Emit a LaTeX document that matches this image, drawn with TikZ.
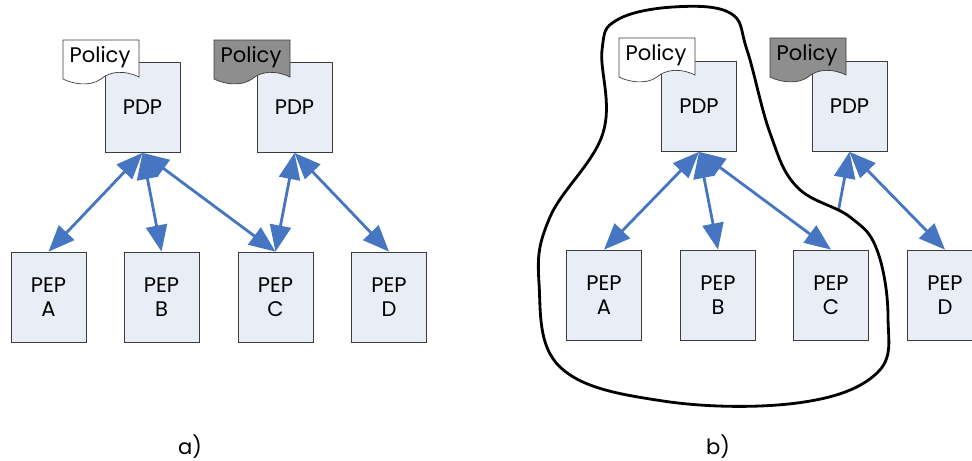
\documentclass[tikz,border=0pt]{standalone}
\usepackage{fontspec}
\setmainfont{Poppins}
\usetikzlibrary{arrows.meta,calc}

\definecolor{boxfill}{HTML}{E9EDF6}
\definecolor{boxline}{HTML}{3C3C3C}
\definecolor{linkblue}{HTML}{4676C2}
\definecolor{polgray}{HTML}{8E8E8E}

\tikzset{
    block/.style={rectangle, draw=boxline, fill=boxfill, minimum width=1.5cm, minimum height=1.8cm,
        inner sep=0pt, align=center, font=\fontsize{12}{14}\selectfont},
    link/.style={draw=linkblue, line width=1.6pt},
    tip/.tip={Triangle[length=15pt,width=12pt]}
}

% policy sheet: name, top left x, top left y, fill
\newcommand{\policysheet}[4]{%
    \draw[draw=boxline, fill=#4] (#2,#3) -- ++(76,0) -- ++(0,37)
        .. controls +(-14,-7) and +(9,-8) .. ++(-38,2)
        .. controls +(-11,8) and +(10,5) .. ++(-38,0) -- cycle;
    \node[font=\fontsize{12}{14}\selectfont, inner sep=0pt] (#1) at (#2+37,#3+17) {Policy};
}

\begin{document}
\begin{tikzpicture}[
                            x=0.02cm, y=-0.02cm,
                            >=tip
                        ]
                        \path[use as bounding box, clip] (0,0) rectangle (972,460);

                        % Blocks a)
                        \node [block] (pdpLa) at (142.5,107.5) {PDP};
                        \policysheet{polLa}{63}{40}{white}
                        \node [block] (pdpRa) at (294.5,107.5) {PDP};
                        \policysheet{polRa}{214}{40}{polgray}
                        \node [block] (pepAa) at (48.5,297) {PEP\\A};
                        \node [block] (pepBa) at (161.5,297) {PEP\\B};
                        \node [block] (pepCa) at (275.5,297) {PEP\\C};
                        \node [block] (pepDa) at (389,297) {PEP\\D};

                        % Connections a)
                        \draw [link,<->] (pdpLa.south) -- (pepAa.north);
                        \draw [link,<->] (pdpLa.south) -- (pepBa.north);
                        \draw [link,<->] (pdpLa.south) -- (pepCa.north);
                        \draw [link,<->] (pdpRa.south) -- (pepCa.north);
                        \draw [link,<->] (pdpRa.south) -- (pepDa.north);

                        % Blocks b)
                        \node [block] (pdpLb) at (699,106.5) {PDP};
                        \policysheet{polLb}{619}{38}{white}
                        \node [block] (pdpRb) at (849.5,106.5) {PDP};
                        \policysheet{polRb}{770}{38}{polgray}
                        \node [block] (pepAb) at (604,295) {PEP\\A};
                        \node [block] (pepBb) at (718,295) {PEP\\B};
                        \node [block] (pepCb) at (831,295) {PEP\\C};
                        \node [block] (pepDb) at (945,295) {PEP\\D};

                        % Connections b)
                        \draw [link,<->] (pdpLb.south) -- (pepAb.north);
                        \draw [link,<->] (pdpLb.south) -- (pepBb.north);
                        \draw [link,<->] (pdpLb.south) -- (pepCb.north);
                        \coordinate (cutC) at ($(pdpRb.south)!0.59!(pepCb.north)$);
                        \draw [link,->] (cutC) -- (pdpRb.south);
                        \draw [link,<->] (pdpRb.south) -- (pepDb.north);

                        % Domain outline
                        \draw [line width=1.6pt] plot [smooth cycle, tension=0.65] coordinates {
                            (602,50) (603,133) (550,217) (539,283) (560,367) (663,401) (797,403)
                            (877,373) (888,317) (877,250) (850,217) (797,187) (770,133) (747,50)
                            (730,13) (673,7) (617,20)};

                        % Captions
                        \node [font=\fontsize{12}{14}\selectfont] (capA) at (190,447) {a)};
                        \node [font=\fontsize{12}{14}\selectfont] (capB) at (718,447) {b)};
                    \end{tikzpicture}
\end{document}
